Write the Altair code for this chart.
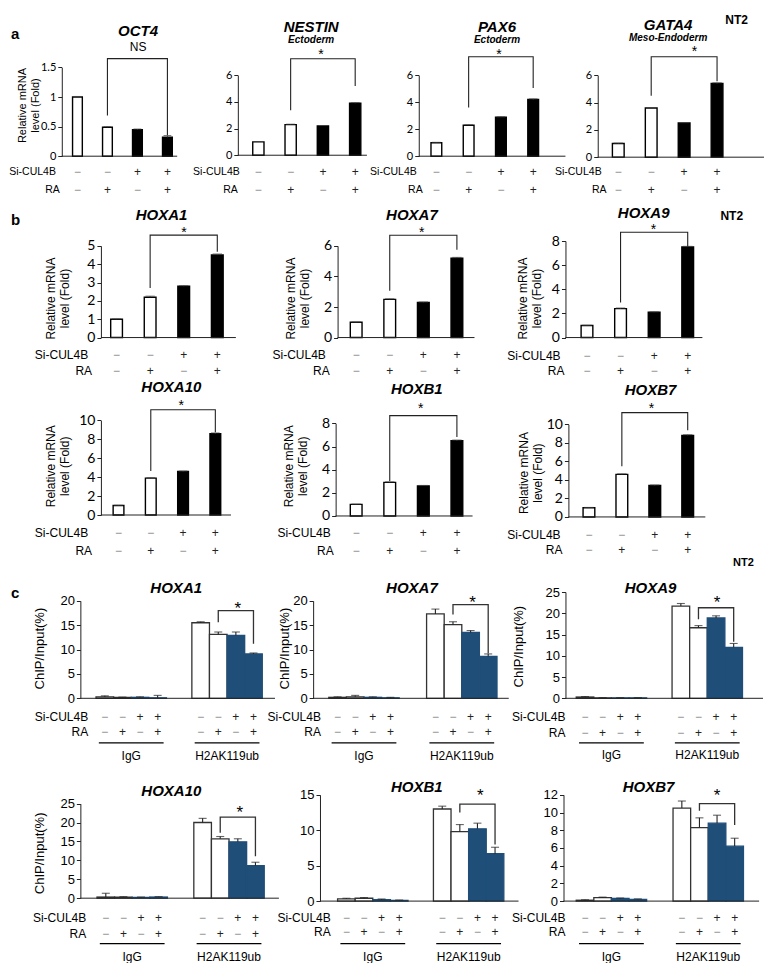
import altair as alt
import pandas as pd

# ---------------- data ----------------
CONDS = ["c1", "c2", "c3", "c4"]
SI_CUL4B = ["−", "−", "+", "+"]
RA = ["−", "+", "−", "+"]

GENES_A = ["OCT4", "NESTIN", "PAX6", "GATA4"]
LINEAGE_A = ["", "Ectoderm", "Ectoderm", "Meso-Endoderm"]
SIG_A = ["NS", "*", "*", "*"]
FOLD_A = [[1.00, 0.49, 0.45, 0.32], [1.0, 2.3, 2.2, 3.9], [1.0, 2.3, 2.9, 4.2], [1.0, 3.6, 2.5, 5.4]]
FOLD_A_ERR = [[0.01, 0.01, 0.01, 0.03], [0.03, 0.03, 0.03, 0.05], [0.03, 0.03, 0.03, 0.05], [0.03, 0.04, 0.03, 0.05]]
YMAX_A = [1.5, 6, 6, 6]
YSTEP_A = [0.5, 2, 2, 2]
BRACKET_A = [[1.65, 0.69, 0.36], [7.24, 3.37, 5.2], [7.37, 3.61, 5.06], [7.36, 4.5, 5.57]]

GENES_B = ["HOXA1", "HOXA7", "HOXA9", "HOXA10", "HOXB1", "HOXB7"]
FOLD_B = [[1.0, 2.2, 2.8, 4.5], [1.0, 2.5, 2.3, 5.2], [1.0, 2.4, 2.1, 7.5],
          [1.0, 3.9, 4.6, 8.6], [1.0, 2.9, 2.6, 6.5], [1.0, 4.6, 3.4, 8.8]]
FOLD_B_ERR = [[0.02, 0.06, 0.03, 0.06], [0.02, 0.04, 0.03, 0.05], [0.02, 0.05, 0.03, 0.06],
              [0.03, 0.06, 0.05, 0.08], [0.03, 0.05, 0.04, 0.06], [0.03, 0.06, 0.05, 0.08]]
YMAX_B = [5, 6, 8, 10, 8, 10]
YSTEP_B = [1, 2, 2, 2, 2, 2]
BRACKET_B = [[5.59, 2.71, 4.68], [6.70, 3.06, 5.74], [8.73, 2.91, 7.52],
             [11.13, 4.64, 8.76], [8.67, 3.03, 6.82], [11.26, 5.47, 9.37]]

GROUPS_C = ["IgG", "H2AK119ub"]
IGG_C = [[0.3, 0.2, 0.2, 0.1], [0.2, 0.3, 0.2, 0.1], [0.3, 0.1, 0.1, 0.1],
         [0.3, 0.3, 0.2, 0.3], [0.3, 0.4, 0.2, 0.1], [0.1, 0.4, 0.3, 0.2]]
IGG_C_ERR = [[0.2, 0.05, 0.1, 0.5], [0.1, 0.3, 0.1, 0.1], [0.1, 0.05, 0.05, 0.05],
             [1.0, 0.1, 0.1, 0.1], [0.1, 0.1, 0.1, 0.05], [0.05, 0.05, 0.05, 0.05]]
H2A_C = [[15.5, 13.1, 12.9, 9.1], [17.3, 15.1, 13.5, 8.6], [21.7, 16.6, 18.9, 12.0],
         [20.0, 15.7, 14.9, 8.6], [13.0, 9.8, 10.2, 6.7], [10.5, 8.3, 8.8, 6.2]]
H2A_C_ERR = [[0.2, 0.5, 0.7, 0.2], [1.0, 0.6, 0.4, 0.5], [0.6, 0.5, 0.5, 0.9],
             [1.1, 0.6, 0.8, 0.9], [0.4, 1.0, 0.8, 0.9], [0.8, 1.1, 0.9, 0.9]]
YMAX_C = [20, 20, 25, 25, 15, 12]
YSTEP_C = [5, 5, 5, 5, 5, 2]
BRACKET_C = [[18.0, 15.6, 11.2], [19.2, 17.2, 9.2], [21.3, 18.6, 13.3],
             [21.4, 17.3, 11.1], [13.7, 12.5, 8.0], [11.0, 10.2, 8.6]]

# ---------------- layout (reference pixel coordinates) ----------------
SX = 0.978
SY = 0.975
W, H = 761, 955
FA = "Liberation Sans"
FN = "Lato"
BLUE = "#1F4E79"
ONE = pd.DataFrame({"k": [0]})

LAY_A = [
    dict(axis=55, end=173, y0=152, ytop=61, centers=[71, 102, 133, 163], bw=10, title=(133, 24), sub=None,
         sig=(133, 40), si_r=49, ra_r=53, si_y=168, ra_y=187, ytitle=(15, 100)),
    dict(axis=235, end=367, y0=151, ytop=69, centers=[256, 289, 322, 355], bw=11.5, title=(310, 19), sub=(310, 33),
         sig=(320, 45), si_r=237, ra_r=235, si_y=168, ra_y=187, ytitle=None),
    dict(axis=420, end=570, y0=152, ytop=69, centers=[438, 471, 504, 537], bw=11, title=(500, 19), sub=(500, 33),
         sig=(502, 45), si_r=418, ra_r=424, si_y=168, ra_y=187, ytitle=None),
    dict(axis=603, end=773, y0=153, ytop=69, centers=[624, 658, 691, 725], bw=12, title=(675, 17), sub=(675, 31),
         sig=(702, 42), si_r=607, ra_r=612, si_y=168, ra_y=187, ytitle=None),
]
LAY_B = [
    dict(axis=95, end=233, y0=338, ytop=244, centers=[111, 146, 180, 214], bw=12, title=(157, 212),
         sig=(180, 228), si_r=82, ra_r=86, si_y=356, ra_y=372, ytitle=(44, 298)),
    dict(axis=337, end=477, y0=338, ytop=244, centers=[356, 390, 424, 459], bw=12, title=(413, 212),
         sig=(423, 228), si_r=325, ra_r=329, si_y=356, ra_y=372, ytitle=(289, 298)),
    dict(axis=570, end=710, y0=338, ytop=239, centers=[592, 626, 661, 695], bw=12, title=(650, 210),
         sig=(660, 225), si_r=565, ra_r=569, si_y=357, ra_y=372, ytitle=(527, 298)),
    dict(axis=95, end=228, y0=520, ytop=423, centers=[113, 146, 179, 212], bw=11, title=(167, 389),
         sig=(177, 405), si_r=82, ra_r=86, si_y=538, ra_y=557, ytitle=(44, 470)),
    dict(axis=335, end=475, y0=521, ytop=426, centers=[356, 390, 424, 459], bw=12, title=(418, 391),
         sig=(422, 408), si_r=330, ra_r=333, si_y=538, ra_y=557, ytitle=(287, 470)),
    dict(axis=573, end=713, y0=522, ytop=427, centers=[594, 628, 662, 695], bw=12, title=(657, 392),
         sig=(658, 408), si_r=565, ra_r=567, si_y=540, ra_y=556, ytitle=(528, 477)),
]
LAY_C = [
    dict(axis=74, end=273, y0=708, ytop=608, groups=[126, 224], gw=72, title=(172, 595), sig=(235, 612),
         si_r=82, ra_r=82, si_y=727, ra_y=743, ul=753, lab=767, ytitle=(33, 657)),
    dict(axis=312, end=512, y0=708, ytop=608, groups=[364, 464], gw=72, title=(413, 595), sig=(475, 606),
         si_r=320, ra_r=320, si_y=727, ra_y=743, ul=753, lab=767, ytitle=(283, 657)),
    dict(axis=570, end=772, y0=708, ytop=599, groups=[617, 715], gw=72, title=(657, 595), sig=(725, 606),
         si_r=570, ra_r=570, si_y=727, ra_y=744, ul=753, lab=766, ytitle=(522, 655)),
    dict(axis=74, end=277, y0=913, ytop=816, groups=[127, 226], gw=72, title=(167, 803), sig=(237, 822),
         si_r=80, ra_r=80, si_y=933, ra_y=950, ul=959, lab=973, ytitle=(33, 867)),
    dict(axis=319, end=522, y0=916, ytop=807, groups=[373, 471], gw=72, title=(418, 799), sig=(483, 804),
         si_r=330, ra_r=330, si_y=933, ra_y=948, ul=959, lab=973, ytitle=None),
    dict(axis=568, end=768, y0=916, ytop=807, groups=[617, 716], gw=72, title=(655, 799), sig=(725, 804),
         si_r=570, ra_r=570, si_y=933, ra_y=948, ul=959, lab=973, ytitle=None),
]


def PX(v):
    return SX * v


def PY(v):
    return SY * v


def ticks_for(ymax, step):
    n = int(round(ymax / step))
    return [round(i * step, 6) for i in range(n + 1)]


def yaxis(ticks, fs, font, axis_x):
    return alt.Axis(values=ticks, format="~g", title=None, grid=False, labelFont=font, labelFontSize=fs,
                    labelColor="black", tickSize=4, tickColor="#222", domainColor="#222", labelPadding=2,
                    orient="left", offset=-PX(axis_x))


def txt(text, x, y, size, bold=False, italic=False, align="center", font=FA, dy=0, angle=0, lh=None):
    kw = dict(text=text, fontSize=size, font=font, align=align, baseline="middle", color="black")
    if bold:
        kw["fontWeight"] = "bold"
    if italic:
        kw["fontStyle"] = "italic"
    if dy:
        kw["dy"] = dy
    if angle:
        kw["angle"] = angle
    if lh:
        kw["lineHeight"] = lh
    return alt.Chart(ONE).mark_text(**kw).encode(x=alt.value(PX(x)), y=alt.value(PY(y)))


def sign_color(s):
    return "#8a8a8a" if s == "−" else "#222222"


def fold_panel(gene, sub, sig, vals, errs, ymax, ystep, br, lay, tick_fs, title_fs, ytitle_fs, lab_fs):
    c = lay["centers"]
    bw = lay["bw"]
    step = (c[3] - c[0]) / 3
    df = pd.DataFrame({"cond": CONDS, "value": vals, "hi": [v + e for v, e in zip(vals, errs)],
                       "fill": ["white", "white", "black", "black"], "si": SI_CUL4B, "ra": RA,
                       "sic": [sign_color(s) for s in SI_CUL4B], "rac": [sign_color(s) for s in RA]})
    xs = alt.Scale(domain=CONDS, range=[PX(c[0] - bw / 2), PX(c[3] + bw / 2)],
                   paddingInner=1 - bw / step, paddingOuter=0)
    ys = alt.Scale(domain=[0, ymax], range=[PY(lay["y0"]), PY(lay["ytop"])], nice=False, zero=True)
    X = alt.X("cond:N", scale=xs, axis=None)
    base = alt.Chart(df)
    bars = base.mark_bar(stroke="black", strokeWidth=1.4).encode(
        x=X, y=alt.Y("value:Q", scale=ys, axis=yaxis(ticks_for(ymax, ystep), tick_fs, FN, lay["axis"])),
        fill=alt.Fill("fill:N", scale=None))
    err = base.mark_rule(color="#444", strokeWidth=1).encode(x=X, y=alt.Y("value:Q", title=None), y2="hi:Q")
    cap = base.mark_tick(color="#444", thickness=1, size=PX(bw) * 0.8).encode(x=X, y=alt.Y("hi:Q", title=None))
    baseline = alt.Chart(ONE).mark_rule(color="#222", strokeWidth=1).encode(
        x=alt.value(PX(lay["axis"])), x2=alt.value(PX(lay["end"])), y=alt.Y(datum=0, title=None))
    si = base.mark_text(fontSize=12, font=FA, baseline="middle").encode(
        x=X, y=alt.value(PY(lay["si_y"])), text="si:N", color=alt.Color("sic:N", scale=None))
    ra = base.mark_text(fontSize=12, font=FA, baseline="middle").encode(
        x=X, y=alt.value(PY(lay["ra_y"])), text="ra:N", color=alt.Color("rac:N", scale=None))
    brdf = pd.DataFrame({"cond": ["c2", "c2", "c4", "c4"], "v": [br[1], br[0], br[0], br[2]], "o": [0, 1, 2, 3]})
    bracket = alt.Chart(brdf).mark_line(color="#222", strokeWidth=1.1).encode(
        x=X, y=alt.Y("v:Q", title=None), order="o:Q")
    layers = [bars, err, cap, baseline, si, ra, bracket,
              txt("Si-CUL4B", lay["si_r"], lay["si_y"], lab_fs, align="right"),
              txt("RA", lay["ra_r"], lay["ra_y"], lab_fs, align="right"),
              txt(gene, lay["title"][0], lay["title"][1], title_fs, bold=True, italic=True)]
    if sub:
        layers.append(txt(sub, lay["sub"][0], lay["sub"][1], 10, bold=True, italic=True))
    if sig == "*":
        layers.append(txt("*", lay["sig"][0], lay["sig"][1], 14, dy=3))
    else:
        layers.append(txt(sig, lay["sig"][0], lay["sig"][1], 12))
    if lay["ytitle"]:
        layers.append(txt(["Relative mRNA", "level (Fold)"], lay["ytitle"][0], lay["ytitle"][1],
                          ytitle_fs, angle=270, lh=ytitle_fs + 2))
    return alt.layer(*layers)


def chip_panel(gene, igg, igg_err, h2a, h2a_err, ymax, ystep, br, lay):
    g = lay["groups"]
    gw = lay["gw"]
    step = g[1] - g[0]
    rows = []
    for grp, vals, errs in ((GROUPS_C[0], igg, igg_err), (GROUPS_C[1], h2a, h2a_err)):
        for i, cnd in enumerate(CONDS):
            rows.append({"group": grp, "cond": cnd, "value": vals[i], "hi": vals[i] + errs[i],
                         "fill": "white" if i < 2 else BLUE, "stroke": "#333" if i < 2 else BLUE,
                         "si": SI_CUL4B[i], "ra": RA[i],
                         "sic": sign_color(SI_CUL4B[i]), "rac": sign_color(RA[i])})
    df = pd.DataFrame(rows)
    xs = alt.Scale(domain=GROUPS_C, range=[PX(g[0] - gw / 2), PX(g[1] + gw / 2)],
                   paddingInner=1 - gw / step, paddingOuter=0)
    xo = alt.Scale(domain=CONDS, paddingInner=0, paddingOuter=0)
    ys = alt.Scale(domain=[0, ymax], range=[PY(lay["y0"]), PY(lay["ytop"])], nice=False, zero=True)
    X = alt.X("group:N", scale=xs, axis=None)
    XO = alt.XOffset("cond:N", scale=xo)
    base = alt.Chart(df)
    bars = base.mark_bar(strokeWidth=1.3).encode(
        x=X, xOffset=XO, y=alt.Y("value:Q", scale=ys, axis=yaxis(ticks_for(ymax, ystep), 13, FA, lay["axis"])),
        fill=alt.Fill("fill:N", scale=None), stroke=alt.Stroke("stroke:N", scale=None))
    err = base.mark_rule(color="#222", strokeWidth=1.1).encode(
        x=X, xOffset=XO, y=alt.Y("value:Q", title=None), y2="hi:Q")
    cap = base.mark_tick(color="#222", thickness=1.1, size=8).encode(
        x=X, xOffset=XO, y=alt.Y("hi:Q", title=None))
    baseline = alt.Chart(ONE).mark_rule(color="#222", strokeWidth=1).encode(
        x=alt.value(PX(lay["axis"])), x2=alt.value(PX(lay["end"])), y=alt.Y(datum=0, title=None))
    si = base.mark_text(fontSize=12, font=FA, baseline="middle").encode(
        x=X, xOffset=XO, y=alt.value(PY(lay["si_y"])), text="si:N", color=alt.Color("sic:N", scale=None))
    ra = base.mark_text(fontSize=12, font=FA, baseline="middle").encode(
        x=X, xOffset=XO, y=alt.value(PY(lay["ra_y"])), text="ra:N", color=alt.Color("rac:N", scale=None))
    gdf = pd.DataFrame({"group": GROUPS_C})
    underline = alt.Chart(gdf).mark_bar(color="black", width=alt.RelativeBandSize(0.92)).encode(
        x=X, y=alt.value(PY(lay["ul"])), y2=alt.value(PY(lay["ul"]) + 1.2))
    glab = alt.Chart(gdf).mark_text(fontSize=12, font=FA, color="black", baseline="middle").encode(
        x=X, y=alt.value(PY(lay["lab"])), text="group:N")
    brdf = pd.DataFrame({"group": [GROUPS_C[1]] * 4, "cond": ["c2", "c2", "c4", "c4"],
                         "v": [br[1], br[0], br[0], br[2]], "o": [0, 1, 2, 3]})
    bracket = alt.Chart(brdf).mark_line(color="#333", strokeWidth=1.3).encode(
        x=X, xOffset=XO, y=alt.Y("v:Q", title=None), order="o:Q")
    layers = [bars, err, cap, baseline, si, ra, underline, glab, bracket,
              txt("Si-CUL4B", lay["si_r"], lay["si_y"], 12, align="right"),
              txt("RA", lay["ra_r"], lay["ra_y"], 12, align="right"),
              txt(gene, lay["title"][0], lay["title"][1], 15, bold=True, italic=True),
              txt("*", lay["sig"][0], lay["sig"][1], 17, dy=4)]
    if lay["ytitle"]:
        layers.append(txt("ChIP/Input(%)", lay["ytitle"][0], lay["ytitle"][1], 13, angle=270))
    return alt.layer(*layers)


panels = []
for i in range(4):
    panels.append(fold_panel(GENES_A[i], LINEAGE_A[i], SIG_A[i], FOLD_A[i], FOLD_A_ERR[i], YMAX_A[i],
                             YSTEP_A[i], BRACKET_A[i], LAY_A[i], 11, 15, 11, 10.5))
for i in range(6):
    panels.append(fold_panel(GENES_B[i], None, "*", FOLD_B[i], FOLD_B_ERR[i], YMAX_B[i], YSTEP_B[i],
                             BRACKET_B[i], LAY_B[i], 14, 15, 12, 12))
for i in range(6):
    panels.append(chip_panel(GENES_B[i], IGG_C[i], IGG_C_ERR[i], H2A_C[i], H2A_C_ERR[i], YMAX_C[i], YSTEP_C[i],
                             BRACKET_C[i], LAY_C[i]))

labels = [
    txt("a", 3, 27, 15, bold=True, align="left"),
    txt("b", 3, 217, 15, bold=True, align="left"),
    txt("c", 3, 600, 15, bold=True, align="left"),
    txt("NT2", 745, 12, 12, bold=True),
    txt("NT2", 740, 213, 12, bold=True),
    txt("NT2", 752, 569, 11, bold=True),
]

chart = alt.layer(*panels, *labels).resolve_scale(
    x="independent", y="independent", xOffset="independent"
).properties(
    width=W, height=H, padding=0, autosize=alt.AutoSizeParams(type="none")
).configure_view(stroke=None)

chart.save("out.html", embed_options={"renderer": "svg", "actions": False})
